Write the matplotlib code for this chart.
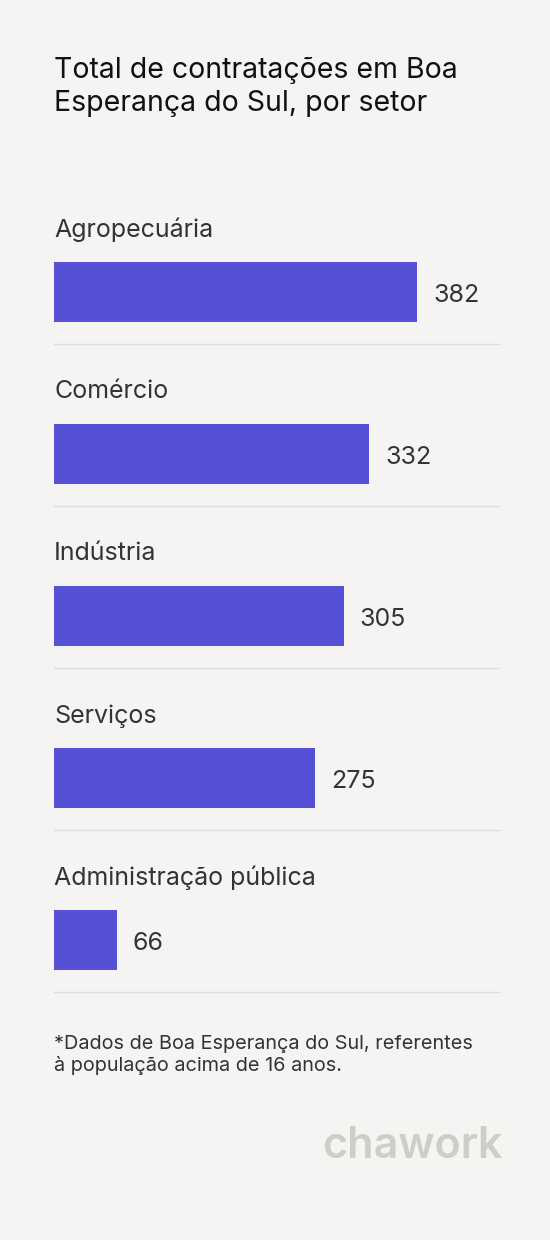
import matplotlib.pyplot as plt

setores = ["Agropecuária", "Comércio", "Indústria", "Serviços", "Administração pública"]
contratacoes = [382, 332, 305, 275, 66]

bg = "#f5f4f2"
bar_color = "#5650d6"
W, H = 550, 1240
px_per_unit = 0.95
row_px = 162

fig = plt.figure(figsize=(W / 100, H / 100), dpi=100, facecolor=bg)
plt.rcParams["font.family"] = ["Inter", "DejaVu Sans"]

left_px, right_px = 54, 500
top_px = 292 - row_px / 2
ax = fig.add_axes([left_px / W, 1 - (top_px + 5 * row_px) / H,
                   (right_px - left_px) / W, 5 * row_px / H])
ax.set_facecolor(bg)
ax.set_xlim(0, (right_px - left_px) / px_per_unit)
ax.set_ylim(len(setores) - 0.5, -0.5)
ax.axis("off")

ys = list(range(len(setores)))
ax.barh(ys, contratacoes, height=60 / row_px, color=bar_color)
for y, nome, v in zip(ys, setores, contratacoes):
    ax.text(0, y - 62 / row_px, nome, fontsize=18, color="#333333", va="center", ha="left")
    ax.text(v + 16 / px_per_unit, y + 4 / row_px, str(v), fontsize=18, color="#333333",
            va="center", ha="left")
    ax.axhline(y + 52 / row_px, color="#dddcda", lw=1)

fig.text(54 / W, 1 - 87 / H, "Total de contratações em Boa\nEsperança do Sul, por setor",
         fontsize=20.5, color="#111111", va="center", ha="left", linespacing=1.3)
fig.text(54 / W, 1 - 1055 / H,
         "*Dados de Boa Esperança do Sul, referentes\nà população acima de 16 anos.",
         fontsize=14.3, color="#333333", va="center", ha="left", linespacing=1.2)
fig.text(502 / W, 1 - 1147 / H, "chawork", fontsize=31, fontweight="semibold",
         color="#cfcdc8", va="center", ha="right")

fig.savefig("out.png", dpi=100, facecolor=bg)
